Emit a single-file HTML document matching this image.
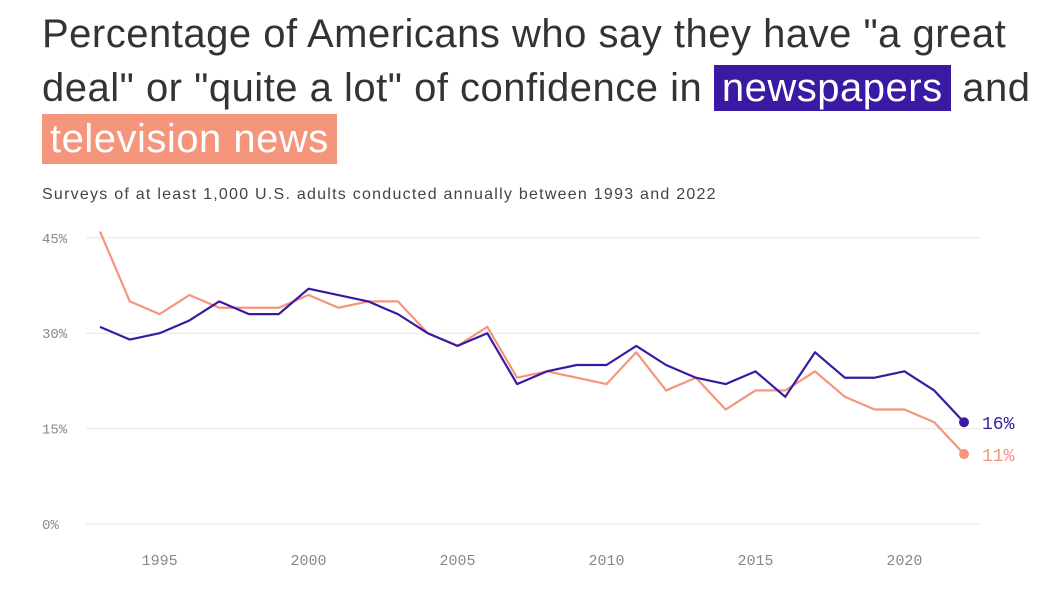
<!DOCTYPE html>
<html><head><meta charset="utf-8"><style>
body{margin:0;width:1050px;height:611px;background:#fff;overflow:hidden;font-family:"Liberation Sans",sans-serif;}
.t{position:absolute;left:42px;font-size:40px;color:#333;white-space:nowrap;letter-spacing:0.5px;}
.hl1{background:#3a1aa3;color:#fff;padding:1px 8px;}
.hl2{background:#f4957c;color:#fff;padding:3px 8px;}
.sub{position:absolute;left:42px;top:186px;font-size:16px;color:#444;letter-spacing:1.25px;white-space:nowrap;}
</style></head><body>
<div class="t" style="top:12px">Percentage of Americans who say they have "a great</div>
<div class="t" style="top:66px">deal" or "quite a lot" of confidence in <span class="hl1">newspapers</span> and</div>
<div class="t" style="top:117px"><span class="hl2">television news</span></div>
<div class="sub">Surveys of at least 1,000 U.S. adults conducted annually between 1993 and 2022</div>
<svg id="c" width="1050" height="611" style="position:absolute;left:0;top:0"></svg>
<script>
const years=[];for(let y=1993;y<=2022;y++)years.push(y);
const newspapers=[31,29,30,32,35,33,33,37,36,35,33,30,28,30,22,24,25,25,28,25,23,22,24,20,27,23,23,24,21,16];
const television=[46,35,33,36,34,34,34,36,34,35,35,30,28,31,23,24,23,22,27,21,23,18,21,21,24,20,18,18,16,11];
const yTicks=[0,15,30,45];
const xTicks=[1995,2000,2005,2010,2015,2020];
const NS="http://www.w3.org/2000/svg";
const svg=document.getElementById('c');
const x=v=>100+(v-1993)*(964-100)/29;
const y=v=>524-v*6.36;
function el(t,a){const e=document.createElementNS(NS,t);for(const k in a)e.setAttribute(k,a[k]);svg.appendChild(e);return e;}
yTicks.forEach(t=>{
 const g=el('line',{x1:86,x2:980,y1:y(t),y2:y(t),stroke:'#e6e6e6','stroke-width':1});
 
 
 const tx=el('text',{x:42,y:y(t)+5,'font-size':14,fill:'#888','font-family':'Liberation Mono, monospace'});
 tx.textContent=t+'%';
 
 
});
xTicks.forEach(t=>{
 const tx=el('text',{x:x(t),y:565,'font-size':15,fill:'#888','text-anchor':'middle','font-family':'Liberation Mono, monospace'});
 tx.textContent=t;
 
 
});
function series(vals,col,name){
 const p=el('polyline',{points:vals.map((v,i)=>x(years[i])+','+y(v)).join(' '),fill:'none',stroke:col,'stroke-width':2.2,'stroke-linejoin':'round'});
 
 
 const n=vals.length-1;
 const d=el('circle',{cx:x(years[n]),cy:y(vals[n]),r:5,fill:col});
 
 
 const l=el('text',{x:982,y:y(vals[n])+7,'font-size':18,fill:col,'font-family':'Liberation Mono, monospace'});
 l.textContent=vals[n]+'%';
 
 
}
series(television,'#f4957c','television');
series(newspapers,'#3a1aa3','newspapers');
</script>
</body></html>
